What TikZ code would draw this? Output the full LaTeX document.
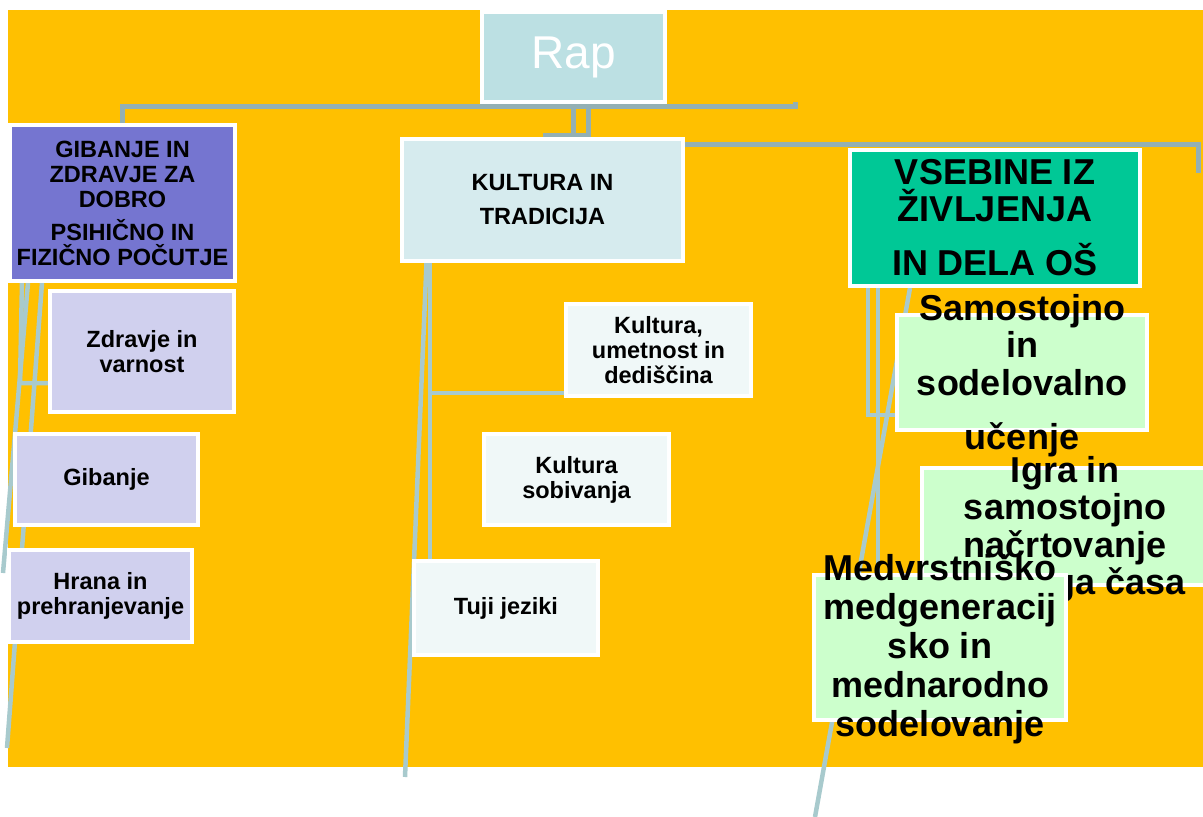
\documentclass[tikz,border=0pt]{standalone}
\usepackage{fontspec}
\setmainfont{Liberation Sans}
\definecolor{bgorange}{RGB}{255,192,0}
\definecolor{rapfill}{RGB}{188,224,227}
\definecolor{gibfill}{RGB}{117,117,208}
\definecolor{kultfill}{RGB}{214,235,238}
\definecolor{vsebfill}{RGB}{0,200,150}
\definecolor{lavfill}{RGB}{208,208,238}
\definecolor{palefill}{RGB}{240,248,248}
\definecolor{greenfill}{RGB}{204,255,204}
\definecolor{linedark}{RGB}{148,176,180}
\definecolor{linelight}{RGB}{168,202,205}
\pgfdeclarelayer{bg}
\pgfsetlayers{bg,main}
\tikzset{
  box/.style={draw=white, line width=4pt, inner sep=0pt, align=center,
    font=\bfseries\fontsize{23.5}{25}\selectfont},
  bigtext/.style={align=center, inner sep=0pt,
    font=\bfseries\fontsize{36}{37.5}\selectfont},
  dkline/.style={draw=linedark, line width=5pt},
  ltline/.style={draw=linelight, line width=4.5pt}
}

\begin{document}
\begin{tikzpicture}[x=1pt,y=-1pt]
  \useasboundingbox (0,0) rectangle (1203,817);

  \node[box, fill=rapfill, minimum width=183pt, minimum height=90pt, text=white,
    font=\fontsize{46}{50}\selectfont] (rap) at (573.5,57) {Rap};
  \node[box, fill=gibfill, minimum width=225pt, minimum height=156pt] (gib) at (122.5,203)
    {GIBANJE IN\\ZDRAVJE ZA\\DOBRO\\[8pt]PSIHIČNO IN\\FIZIČNO POČUTJE};
  \node[box, fill=kultfill, minimum width=281pt, minimum height=122pt] (kult) at (542.5,200)
    {KULTURA IN\\[9pt]TRADICIJA};
  \node[box, fill=vsebfill, minimum width=290pt, minimum height=136pt,
    font=\bfseries\fontsize{36}{37}\selectfont] (vseb) at (995,218)
    {VSEBINE IZ\\ŽIVLJENJA\\[17pt]IN DELA OŠ};

  \node[box, fill=lavfill, minimum width=184pt, minimum height=121pt] (zdr) at (142,351.5)
    {Zdravje in\\varnost};
  \node[box, fill=lavfill, minimum width=183pt, minimum height=91pt] (gb) at (106.5,479.5)
    {Gibanje};
  \node[box, fill=lavfill, minimum width=183pt, minimum height=92pt] (hra) at (100.5,596)
    {Hrana in\\prehranjevanje};

  \node[box, fill=palefill, minimum width=185pt, minimum height=92pt] (kum) at (658.5,350)
    {Kultura,\\umetnost in\\dediščina};
  \node[box, fill=palefill, minimum width=185pt, minimum height=91pt] (ksob) at (576.5,479.5)
    {Kultura\\sobivanja};
  \node[box, fill=palefill, minimum width=184pt, minimum height=94pt] (tuj) at (506,608)
    {Tuji jeziki};

  \node[box, fill=greenfill, minimum width=250pt, minimum height=115pt,
    label={[name=samtext, bigtext, yshift=-3pt]center:{Samostojno\\in\\sodelovalno\\[16.5pt]učenje}}]
    (sam) at (1022,372.5) {};
  \node[box, fill=greenfill, minimum width=286pt, minimum height=117pt,
    label={[name=igratext, bigtext, yshift=-3pt]center:{Igra in\\samostojno\\načrtovanje\\prostega časa}}]
    (igra) at (1065,526.5) {};
  \node[box, fill=greenfill, minimum width=252pt, minimum height=145pt,
    label={[name=medtext, bigtext, yshift=-1.5pt, font=\bfseries\fontsize{36}{39}\selectfont]center:{Medvrstniško\\medgeneracij\\sko in\\mednarodno\\sodelovanje}}]
    (med) at (940,647.5) {};

  \begin{pgfonlayer}{bg}
    \fill[bgorange] (8,10) rectangle (1203,767);
    \coordinate (topend) at (795,102);
    \coordinate (vsebend) at (1198,173);
    \draw[dkline] (gib.north) -- ++(0,-17) -| (topend);
    \draw[dkline] (rap.south) -- (rap.south |- kult.north);
    \draw[dkline] ([xshift=15pt]rap.south) -- ++(0,31) -| ([xshift=2.5pt]kult.north);
    \draw[dkline] ([yshift=-7pt]kult.north east) -| (vsebend);

    % left branch
    \coordinate (gibend1) at (3,573);
    \coordinate (gibend2) at (7,748);
    \draw[ltline] ([xshift=-100.5pt]gib.south) -- (20,383) -- (zdr.west |- 0,383);
    \draw[ltline] ([xshift=-94.5pt]gib.south) -- (gibend1);
    \draw[ltline] ([xshift=-80.5pt]gib.south) -- (gibend2);

    % middle branch
    \coordinate (kultend) at (405,777);
    \draw[ltline] ([xshift=-112.5pt]kult.south) coordinate (kb) -- (kb |- tuj.north);
    \draw[ltline] (kb |- 0,393) -- (kum.west |- 0,393);
    \draw[ltline] ([xshift=-116pt]kult.south) -- (kultend);

    % right branch
    \coordinate (vsebend2) at (815,817);
    \draw[ltline] ([xshift=-127pt]vseb.south) |- ([yshift=-42.5pt]sam.west);
    \draw[ltline] ([xshift=-117pt]vseb.south) -- ([xshift=-117pt]vseb.south |- med.north);
    \draw[ltline] ([xshift=-85pt]vseb.south) -- (vsebend2);
  \end{pgfonlayer}
\end{tikzpicture}
\end{document}
